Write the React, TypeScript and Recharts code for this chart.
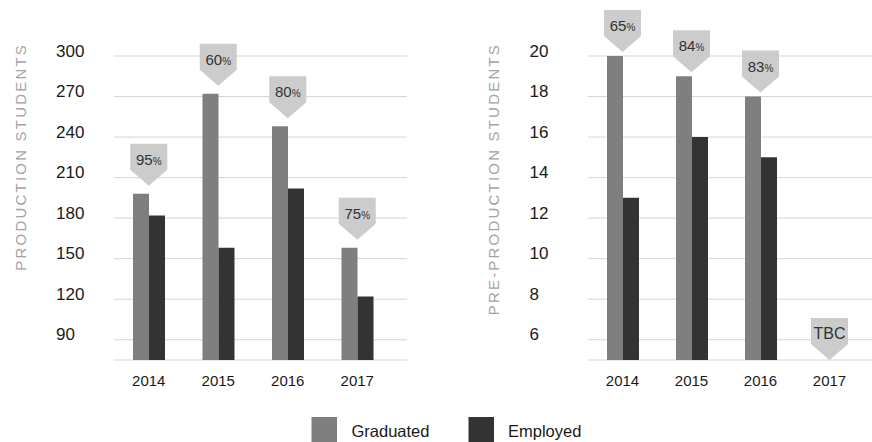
import React from 'react';
import { BarChart, Bar, XAxis, YAxis, CartesianGrid, ReferenceDot } from 'recharts';

const years = ['2014', '2015', '2016', '2017'];
const prodGraduated = [198, 272, 248, 158];
const prodEmployed = [182, 158, 202, 122];
const prodRates = ['95', '60', '80', '75'];
const preGraduated: (number | null)[] = [20, 19, 18, null];
const preEmployed: (number | null)[] = [13, 16, 15, null];
const preRates = ['65', '84', '83', 'TBC'];
const prodTicks = [90, 120, 150, 180, 210, 240, 270, 300];
const preTicks = [6, 8, 10, 12, 14, 16, 18, 20];
const seriesNames = ['Graduated', 'Employed'];

const GRAD = '#7f7f7f';
const EMP = '#333333';
const FLAG = '#cccccc';
const FONT = '"Liberation Sans", Arial, Helvetica, sans-serif';

const prodData = years.map((y, i) => ({ year: y, graduated: prodGraduated[i], employed: prodEmployed[i] }));
const preData = years.map((y, i) => ({ year: y, graduated: preGraduated[i], employed: preEmployed[i] }));

const Flag = (props: any) => {
  const { cx, cy, text, gap } = props;
  if (cx == null || cy == null) return null;
  const w = 37, tri = 16, rect = 26;
  const tip = cy - gap;
  const top = tip - tri - rect;
  const d = `M${cx - w / 2},${top} H${cx + w / 2} V${top + rect} L${cx},${tip} L${cx - w / 2},${top + rect} Z`;
  const isPct = text !== 'TBC';
  return (
    <g>
      <path d={d} fill={FLAG} />
      <text x={cx} y={top + 21} textAnchor="middle" fontFamily={FONT} fontSize={isPct ? 15 : 16} fill="#333">
        {text}
        {isPct ? <tspan fontSize={10}>%</tspan> : null}
      </text>
    </g>
  );
};

const makeYTick = (lx: number) => (props: any) => {
  const { y, payload } = props;
  return (
    <text x={lx} y={y + 0.5} textAnchor="start" fontFamily={FONT} fontSize={17} fill="#1a1a1a">
      {payload.value}
    </text>
  );
};

const XTick = (props: any) => {
  const { x, y, payload } = props;
  return (
    <text x={x} y={y + 26} textAnchor="middle" fontFamily={FONT} fontSize={15} fill="#1a1a1a">
      {payload.value}
    </text>
  );
};

const Title = (props: any) => {
  const { tx, text } = props;
  return (
    <text
      transform={`translate(${tx},43) rotate(-90)`}
      x={0}
      y={0}
      textAnchor="end"
      fontFamily={FONT}
      fontSize={15}
      fill="#a3a3a3"
      style={{ letterSpacing: '2.2px' }}
    >
      {text}
    </text>
  );
};

function Panel(props: {
  data: any[];
  domain: [number, number];
  ticks: number[];
  rates: string[];
  grad: (number | null)[];
  yAxisWidth: number;
  marginRight: number;
  padRight: number;
  tickX: number;
  titleX: number;
  title: string;
  gap: number;
}) {
  const { data, domain, ticks, rates, grad, yAxisWidth, marginRight, padRight, tickX, titleX, title, gap } = props;
  return (
    <BarChart
      width={436}
      height={442}
      data={data}
      margin={{ top: 56, right: marginRight, bottom: 42, left: 0 }}
      barSize={16}
      barGap={0}
    >
      <CartesianGrid vertical={false} stroke="#d5d5d5" strokeWidth={1} />
      <XAxis
        dataKey="year"
        axisLine={false}
        tickLine={false}
        tickSize={0}
        tickMargin={0}
        height={40}
        padding={{ left: 0, right: padRight }}
        tick={XTick}
        interval={0}
      />
      <YAxis
        type="number"
        domain={domain}
        ticks={ticks}
        allowDataOverflow
        axisLine={false}
        tickLine={false}
        width={yAxisWidth}
        tick={makeYTick(tickX)}
        label={<Title tx={titleX} text={title} />}
      />
      <Bar dataKey="graduated" fill={GRAD} isAnimationActive={false} />
      <Bar dataKey="employed" fill={EMP} isAnimationActive={false} />
      {years.map((yr, i) => (
        <ReferenceDot
          key={yr}
          x={yr}
          y={grad[i] == null ? domain[0] : (grad[i] as number)}
          r={0}
          ifOverflow="visible"
          shape={(p: any) => <Flag {...p} text={rates[i]} gap={grad[i] == null ? 0 : gap} />}
        />
      ))}
    </BarChart>
  );
}

export default function App() {
  return (
    <div style={{ position: 'absolute', left: 0, top: 0, width: 872, height: 442, background: '#fff' }}>
      <div style={{ position: 'absolute', left: 0, top: 0 }}>
        <Panel
          data={prodData}
          domain={[75, 300]}
          ticks={prodTicks}
          rates={prodRates}
          grad={prodGraduated}
          yAxisWidth={114}
          marginRight={29}
          padRight={15}
          tickX={56}
          titleX={26}
          title="PRODUCTION STUDENTS"
          gap={8}
        />
      </div>
      <div style={{ position: 'absolute', left: 436, top: 0 }}>
        <Panel
          data={preData}
          domain={[5, 20]}
          ticks={preTicks}
          rates={preRates}
          grad={preGraduated}
          yAxisWidth={152}
          marginRight={0}
          padRight={8}
          tickX={93.5}
          titleX={62.5}
          title="PRE-PRODUCTION STUDENTS"
          gap={4}
        />
      </div>
      <svg style={{ position: 'absolute', left: 0, top: 400 }} width={872} height={42}>
        {seriesNames.map((name, i) => (
          <g key={name}>
            <rect x={311.5 + i * 157} y={17} width={25.5} height={25} fill={i === 0 ? GRAD : EMP} />
            <text x={351.5 + i * 156.5} y={36.8} fontFamily={FONT} fontSize={16.5} fill="#1a1a1a">
              {name}
            </text>
          </g>
        ))}
      </svg>
    </div>
  );
}
